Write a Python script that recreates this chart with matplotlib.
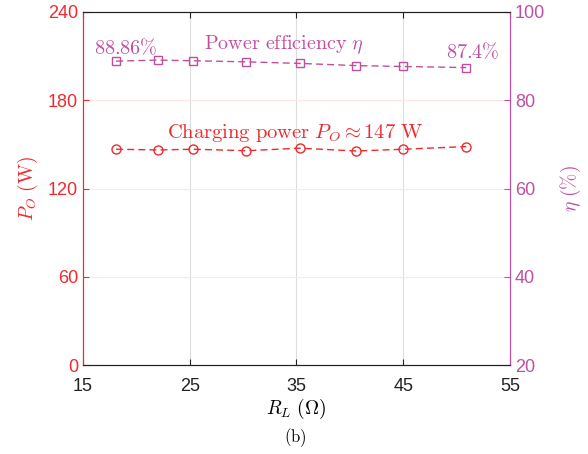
import matplotlib
matplotlib.use("Agg")
import matplotlib.pyplot as plt

plt.rcParams["mathtext.fontset"] = "cm"
plt.rcParams["font.family"] = ["Liberation Sans", "DejaVu Sans"]

RED = "#ee2a2e"
PURPLE = "#c04f9f"

# load resistance sweep
r_load = [18.1, 22.0, 25.3, 30.3, 35.3, 40.6, 45.0, 50.9]
p_out = [146.7, 146.2, 146.7, 145.7, 147.4, 145.5, 146.7, 148.5]
eta = [88.86, 89.1, 88.95, 88.7, 88.35, 87.85, 87.65, 87.4]

x_ticks = [15, 25, 35, 45, 55]
p_ticks = [0, 60, 120, 180, 240]
eta_ticks = [20, 40, 60, 80, 100]

fig = plt.figure(figsize=(5.88, 4.54), dpi=100)
ax = fig.add_axes([0.1412, 0.196, 0.7261, 0.7776])
ax2 = ax.twinx()

ax.set_xlim(15, 55)
ax.set_ylim(0, 240)
ax2.set_ylim(20, 100)
ax.set_xticks(x_ticks)
ax.set_yticks(p_ticks)
ax2.set_yticks(eta_ticks)

for x in x_ticks[1:-1]:
    ax.axvline(x, color="#dddddd", lw=0.8, zorder=0)
for y in p_ticks[1:-1]:
    ax.axhline(y, color="#fde6e6", lw=0.8, zorder=0)

ax.plot(r_load, p_out, "--o", color=RED, lw=1.0, ms=6.5, mfc="none", mew=1.0,
        dashes=(5, 3))
ax2.plot(r_load, eta, "--s", color=PURPLE, lw=1.0, ms=5.5, mfc="none", mew=1.0,
         dashes=(5, 3))

ax.tick_params(axis="x", direction="in", labelsize=13, colors="#222222",
               top=True, length=4, pad=9)
ax.tick_params(axis="y", direction="in", labelsize=13, colors=RED, length=4)
ax2.tick_params(axis="y", direction="in", labelsize=13, colors=PURPLE, length=4)

ax.spines["left"].set_color(RED)
ax2.spines["left"].set_color(RED)
ax2.spines["right"].set_color(PURPLE)
ax.spines["right"].set_color(PURPLE)
for s in ("top", "bottom"):
    ax.spines[s].set_color("#222222")
    ax2.spines[s].set_color("#222222")

ax.set_xlabel(r"$R_L\ (\Omega)$", fontsize=14, labelpad=2)
ax.set_ylabel(r"$P_O\ (\mathrm{W})$", fontsize=14, color=RED, labelpad=6)
ax2.set_ylabel(r"$\eta\ (\%)$", fontsize=14, color=PURPLE, labelpad=10)

ax2.text(33.8, 92.5, r"$\mathrm{Power\ efficiency}\ \eta$", color=PURPLE,
         fontsize=14.5, ha="center", va="center")
ax2.text(19.0, 91.8, r"$%.2f\%%$" % eta[0], color=PURPLE,
         fontsize=14.5, ha="center", va="center")
ax2.text(51.5, 91.0, r"$%.1f\%%$" % eta[-1], color=PURPLE,
         fontsize=14.5, ha="center", va="center")
ax.text(34.9, 157.7, r"$\mathrm{Charging\ power}\ P_O \approx 147\ \mathrm{W}$",
        color=RED, fontsize=14.8, ha="center", va="center")

fig.text(0.503, 0.035, r"$\mathrm{(b)}$", fontsize=12, ha="center", va="center")

fig.savefig("out.png", dpi=100)
